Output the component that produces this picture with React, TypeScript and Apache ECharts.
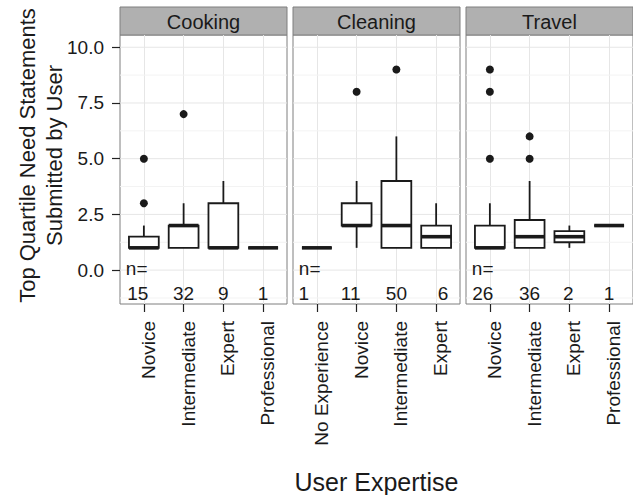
import React, { useEffect, useRef } from "react";
import * as echarts from "echarts";

// ---------------- data ----------------
const facets = ["Cooking", "Cleaning", "Travel"];
const cookingCategories = ["Novice", "Intermediate", "Expert", "Professional"];
const cleaningCategories = ["No Experience", "Novice", "Intermediate", "Expert"];
const travelCategories = ["Novice", "Intermediate", "Expert", "Professional"];

// box stats: [min, q1, median, q3, max]
const cookingBoxes = [
  [1, 1, 1, 1.5, 2],
  [1, 1, 2, 2, 3],
  [1, 1, 1, 3, 4],
  [1, 1, 1, 1, 1],
];
const cleaningBoxes = [
  [1, 1, 1, 1, 1],
  [1, 2, 2, 3, 4],
  [1, 1, 2, 4, 6],
  [1, 1, 1.5, 2, 3],
];
const travelBoxes = [
  [1, 1, 1, 2, 3],
  [1, 1, 1.5, 2.25, 4],
  [1, 1.25, 1.5, 1.75, 2],
  [2, 2, 2, 2, 2],
];

// outliers per category
const cookingOutliers = [[3, 5], [7], [], []];
const cleaningOutliers = [[], [8], [9], []];
const travelOutliers = [[5, 8, 9], [5, 6], [], []];

// n per category
const cookingCounts = [15, 32, 9, 1];
const cleaningCounts = [1, 11, 50, 6];
const travelCounts = [26, 36, 2, 1];

const yTickValues = [0, 2.5, 5, 7.5, 10];
const yMinorValues = [-1.25, 1.25, 3.75, 6.25, 8.75];

const yTitle = "Top Quartile Need Statements\nSubmitted by User";
const xTitle = "User Expertise";

// ---------------- layout / style ----------------
const FONT = "'Liberation Sans', Arial, Helvetica, sans-serif";
const PANEL_LEFT = [120, 293, 466];
const PANEL_W = 167;
const PANEL_TOP = 35;
const PANEL_H = 269;
const STRIP_TOP = 7;
const STRIP_H = 28;
const Y_MIN = -1.52;
const Y_MAX = 10.55;
const N_VALUE_Y = -1.05;
const N_EQ_Y = 0.08;
const countOffsets = [
  [-6, 0, 0, 0],
  [-13, -6, 0, 7],
  [-7, 0, -1, 0],
];
const INK = "#1a1a1a";
const HIDDEN_LINE = { show: true, onZero: false, lineStyle: { color: "rgba(0,0,0,0)", width: 0 } };

const panels = [
  { cats: cookingCategories, boxes: cookingBoxes, outliers: cookingOutliers, counts: cookingCounts },
  { cats: cleaningCategories, boxes: cleaningBoxes, outliers: cleaningOutliers, counts: cleaningCounts },
  { cats: travelCategories, boxes: travelBoxes, outliers: travelOutliers, counts: travelCounts },
];

function buildOption() {
  const sp = PANEL_W / 4.2;
  const grid: any[] = [];
  const xAxis: any[] = [];
  const yAxis: any[] = [];
  const series: any[] = [];
  const graphic: any[] = [];

  const gridData = [
    ...yTickValues.map((v) => [0, v, 0]),
    ...yMinorValues.map((v) => [0, v, 1]),
  ];

  panels.forEach((p, i) => {
    const outer = 2 * i;
    const inner = 2 * i + 1;
    grid.push({
      left: PANEL_LEFT[i],
      top: PANEL_TOP,
      width: PANEL_W,
      height: PANEL_H,
      show: true,
      borderColor: "#7f7f7f",
      borderWidth: 1,
      backgroundColor: "#ffffff",
      containLabel: false,
      outerBoundsMode: "none",
    });
    grid.push({
      left: PANEL_LEFT[i] + 0.6 * sp,
      top: PANEL_TOP,
      width: 3 * sp,
      height: PANEL_H,
      show: false,
      containLabel: false,
      outerBoundsMode: "none",
    });

    xAxis.push({ type: "value", gridIndex: outer, min: 0, max: 1, show: false });
    xAxis.push({
      type: "category",
      gridIndex: inner,
      position: "bottom",
      data: p.cats,
      boundaryGap: false,
      axisLine: HIDDEN_LINE,
      axisTick: { show: true, length: 8, lineStyle: { color: "#222222", width: 1.2 } },
      axisLabel: {
        show: true,
        interval: 0,
        rotate: 90,
        fontSize: 19,
        fontFamily: FONT,
        color: INK,
        margin: 17,
        verticalAlign: "top",
        lineHeight: 9,
      },
      splitLine: { show: true, lineStyle: { color: "#e6e6e6", width: 1 } },
    });

    yAxis.push({
      type: "value",
      gridIndex: outer,
      position: "left",
      min: Y_MIN,
      max: Y_MAX,
      axisLine: { ...HIDDEN_LINE, show: i === 0 },
      splitLine: { show: false },
      axisTick: {
        show: i === 0,
        length: 8,
        customValues: yTickValues,
        lineStyle: { color: "#222222", width: 1.2 },
      },
      axisLabel: {
        show: i === 0,
        customValues: yTickValues,
        formatter: (v: number) => v.toFixed(1),
        fontSize: 19,
        fontFamily: FONT,
        color: INK,
        margin: 16,
      },
    });
    yAxis.push({ type: "value", gridIndex: inner, min: Y_MIN, max: Y_MAX, show: false });

    // horizontal gridlines across the full panel
    series.push({
      type: "custom",
      xAxisIndex: outer,
      yAxisIndex: outer,
      silent: true,
      z: 1,
      data: gridData,
      renderItem: (params: any, api: any) => {
        const v = api.value(1);
        const a = api.coord([0, v]);
        const b = api.coord([1, v]);
        return {
          type: "line",
          shape: { x1: a[0], y1: a[1], x2: b[0], y2: b[1] },
          style: { stroke: api.value(2) ? "#f3f3f3" : "#e6e6e6", lineWidth: 1 },
        };
      },
    });

    // boxes
    series.push({
      type: "custom",
      xAxisIndex: inner,
      yAxisIndex: inner,
      silent: true,
      z: 3,
      data: p.boxes.map((b, j) => [j, ...b]),
      renderItem: (params: any, api: any) => {
        const c = api.value(0);
        const pMin = api.coord([c, api.value(1)]);
        const yQ1 = api.coord([c, api.value(2)])[1];
        const yMed = api.coord([c, api.value(3)])[1];
        const yQ3 = api.coord([c, api.value(4)])[1];
        const yMax = api.coord([c, api.value(5)])[1];
        const x = pMin[0];
        const bw = api.size([1, 0])[0] * 0.75;
        const lw = 1.8;
        return {
          type: "group",
          children: [
            { type: "line", shape: { x1: x, y1: pMin[1], x2: x, y2: yQ1 }, style: { stroke: INK, lineWidth: lw } },
            { type: "line", shape: { x1: x, y1: yQ3, x2: x, y2: yMax }, style: { stroke: INK, lineWidth: lw } },
            {
              type: "rect",
              shape: { x: x - bw / 2, y: yQ3, width: bw, height: yQ1 - yQ3 },
              style: { fill: "#ffffff", stroke: INK, lineWidth: lw },
            },
            {
              type: "line",
              shape: { x1: x - bw / 2, y1: yMed, x2: x + bw / 2, y2: yMed },
              style: { stroke: INK, lineWidth: 3.6 },
            },
          ],
        };
      },
    });

    // outliers
    const outData: number[][] = [];
    p.outliers.forEach((vals, j) => vals.forEach((v) => outData.push([j, v])));
    series.push({
      type: "scatter",
      xAxisIndex: inner,
      yAxisIndex: inner,
      silent: true,
      z: 4,
      symbol: "circle",
      symbolSize: 8,
      itemStyle: { color: INK, opacity: 1 },
      data: outData,
    });

    // n counts
    series.push({
      type: "custom",
      xAxisIndex: inner,
      yAxisIndex: inner,
      silent: true,
      z: 4,
      data: p.counts.map((n, j) => [j, N_VALUE_Y, n]),
      renderItem: (params: any, api: any) => {
        const pt = api.coord([api.value(0), api.value(1)]);
        const dx = countOffsets[i][params.dataIndex] || 0;
        return {
          type: "text",
          x: pt[0] + dx,
          y: pt[1],
          style: {
            text: String(api.value(2)),
            fontSize: 19,
            fontFamily: FONT,
            fill: INK,
            align: "center",
            verticalAlign: "middle",
          },
        };
      },
    });
    // "n=" label
    series.push({
      type: "custom",
      xAxisIndex: inner,
      yAxisIndex: inner,
      silent: true,
      z: 4,
      data: [[0, N_EQ_Y]],
      renderItem: (params: any, api: any) => {
        const pt = api.coord([api.value(0), api.value(1)]);
        return {
          type: "text",
          x: pt[0] - 18,
          y: pt[1],
          style: {
            text: "n=",
            fontSize: 19,
            fontFamily: FONT,
            fill: INK,
            align: "left",
            verticalAlign: "middle",
          },
        };
      },
    });

    // strip
    graphic.push({
      type: "rect",
      shape: { x: PANEL_LEFT[i], y: STRIP_TOP, width: PANEL_W, height: STRIP_H },
      style: { fill: "#b0b0b0", stroke: "#7f7f7f", lineWidth: 1 },
      silent: true,
    });
    graphic.push({
      type: "text",
      x: PANEL_LEFT[i] + PANEL_W / 2,
      y: STRIP_TOP + STRIP_H / 2 + 1,
      style: {
        text: facets[i],
        fontSize: 20,
        fontFamily: FONT,
        fill: INK,
        align: "center",
        verticalAlign: "middle",
      },
      silent: true,
    });
  });

  graphic.push({
    type: "text",
    x: 376.5,
    y: 482,
    style: {
      text: xTitle,
      fontSize: 25,
      fontFamily: FONT,
      fill: INK,
      align: "center",
      verticalAlign: "middle",
    },
    silent: true,
  });
  graphic.push({
    type: "text",
    x: 41,
    y: 155.5,
    rotation: Math.PI / 2,
    style: {
      text: yTitle,
      fontSize: 22,
      lineHeight: 27,
      fontFamily: FONT,
      fill: INK,
      align: "center",
      verticalAlign: "middle",
    },
    silent: true,
  });

  return {
    animation: false,
    backgroundColor: "#ffffff",
    textStyle: { fontFamily: FONT },
    grid,
    xAxis,
    yAxis,
    series,
    graphic,
  };
}

export default function App() {
  const ref = useRef<HTMLDivElement>(null);
  useEffect(() => {
    if (!ref.current) return;
    const chart = echarts.init(ref.current, undefined, { renderer: "svg" });
    chart.setOption(buildOption() as any);
    return () => chart.dispose();
  }, []);
  return (
    <div
      ref={ref}
      style={{ position: "fixed", left: 0, top: 0, width: 633, height: 495 }}
    />
  );
}
